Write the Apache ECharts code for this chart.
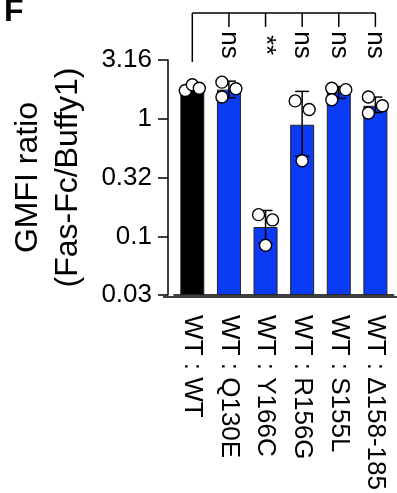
<!DOCTYPE html>
<html><head><meta charset="utf-8">
<script src="https://cdn.jsdelivr.net/npm/echarts@6/dist/echarts.min.js"></script>
<style>html,body{margin:0;padding:0;background:#fff}#c{width:397px;height:493px}</style>
</head><body><div id="c"></div>
<script>
const categories = ['WT : WT','WT : Q130E','WT : Y166C','WT : R156G','WT : S155L','WT : Δ158-185'];
const means = [1.77, 1.77, 0.12, 0.89, 1.69, 1.29];
const errHigh = [null, 2.09, 0.166, 1.71, 1.88, 1.53];
const errLow = [null, 1.51, 0.087, 0.48, 1.49, 1.13];
const replicates = [[1.74,1.95,1.82],[2.05,1.80,1.53],[0.153,0.138,0.084],[1.42,1.20,0.44],[1.82,1.77,1.45],[1.53,1.29,1.12]];
const jitterSide = [[-1,0,1],[-1,1,-1],[-1,1,0],[-1,1,0],[-1,1,-1],[-1,1,-1]];
const significance = ['', 'ns', '**', 'ns', 'ns', 'ns'];
const tickExponents = [-1.5, -1, -0.5, 0, 0.5];
const tickLabels = ['0.03', '0.1', '0.32', '1', '3.16'];
const barColors = ['#000000', '#0b3bf5', '#0b3bf5', '#0b3bf5', '#0b3bf5', '#0b3bf5'];

const FONT = '"Liberation Sans", Arial, Helvetica, sans-serif';
const yMin = Math.pow(10, tickExponents[0]);
const yMax = Math.pow(10, tickExponents[tickExponents.length - 1]);

function labelFor(v) {
  const e = Math.log10(v);
  let best = 0;
  tickExponents.forEach((t, i) => { if (Math.abs(t - e) < Math.abs(tickExponents[best] - e)) best = i; });
  return Math.abs(tickExponents[best] - e) < 0.01 ? tickLabels[best] : '';
}

const chart = echarts.init(document.getElementById('c'), null, {renderer: 'canvas'});

const errData = [];
means.forEach((m, i) => { if (errHigh[i] != null) errData.push([i, errLow[i], errHigh[i]]); });
const ptData = [];
replicates.forEach((arr, i) => arr.forEach((v, j) => ptData.push([i, v, jitterSide[i][j]])));
const sigData = significance.map((s, i) => [i, yMax]);

chart.setOption({
  animation: false,
  backgroundColor: '#fff',
  grid: {left: 169, right: 3.3, top: 60, bottom: 196, containLabel: false},
  xAxis: {
    type: 'category', data: categories,
    axisLine: {lineStyle: {color: '#000', width: 1.5}},
    axisTick: {alignWithLabel: true, length: 9, lineStyle: {color: '#000', width: 1.5}},
    axisLabel: {rotate: -90, margin: 20, color: '#000', fontSize: 26, fontFamily: FONT, interval: 0}
  },
  yAxis: {
    type: 'log', logBase: 10, min: yMin, max: yMax, interval: 0.5, startValue: yMin,
    offset: 6,
    splitLine: {show: false},
    axisLine: {show: true, lineStyle: {color: '#000', width: 1.5}},
    axisTick: {show: true, length: 10, lineStyle: {color: '#000', width: 1.5}},
    axisLabel: {margin: 16, color: '#000', fontSize: 26, fontFamily: FONT, formatter: labelFor},
    name: 'GMFI ratio\n(Fas-Fc/Buffy1)', nameLocation: 'middle', nameRotate: 90, nameGap: 80,
    nameTextStyle: {color: '#000', fontSize: 32, fontFamily: FONT, lineHeight: 40}
  },
  graphic: [
    {type: 'text', left: 4, top: -4, style: {text: 'F', font: 'bold 32px ' + FONT, fill: '#000'}},
    {type: 'line', shape: {x1: 163, y1: 297, x2: 397, y2: 297}, style: {stroke: '#000', lineWidth: 1.5}}
  ],
  series: [
    {
      type: 'bar', data: means.map((v, i) => ({value: v, itemStyle: {color: barColors[i]}})),
      barWidth: 24, itemStyle: {borderColor: '#222', borderWidth: 1}
    },
    {
      type: 'custom', data: errData, z: 3,
      renderItem: (params, api) => {
        const lo = api.coord([api.value(0), api.value(1)]);
        const hi = api.coord([api.value(0), api.value(2)]);
        const w = 7;
        const st = {stroke: '#000', lineWidth: 1.5};
        return {type: 'group', children: [
          {type: 'line', shape: {x1: lo[0], y1: lo[1], x2: hi[0], y2: hi[1]}, style: st},
          {type: 'line', shape: {x1: hi[0] - w, y1: hi[1], x2: hi[0] + w, y2: hi[1]}, style: st},
          {type: 'line', shape: {x1: lo[0] - w, y1: lo[1], x2: lo[0] + w, y2: lo[1]}, style: st}
        ]};
      }
    },
    {
      type: 'custom', data: ptData, z: 4,
      renderItem: (params, api) => {
        const p = api.coord([api.value(0), api.value(1)]);
        return {type: 'circle', shape: {cx: p[0] + api.value(2) * 7, cy: p[1], r: 6},
          style: {fill: '#fff', stroke: '#000', lineWidth: 1.4}};
      }
    },
    {
      type: 'custom', data: sigData, clip: false, z: 5,
      renderItem: (params, api) => {
        const i = api.value(0);
        const p = api.coord([i, yMax]);
        const top = p[1];
        const st = {stroke: '#000', lineWidth: 1.5};
        const children = [];
        if (i === 0) {
          const last = api.coord([significance.length - 1, yMax]);
          children.push({type: 'line', shape: {x1: p[0], y1: top - 47, x2: last[0], y2: top - 47}, style: st});
          children.push({type: 'line', shape: {x1: p[0], y1: top - 47, x2: p[0], y2: top + 2}, style: st});
        } else {
          children.push({type: 'line', shape: {x1: p[0], y1: top - 47, x2: p[0], y2: top - 33}, style: st});
          children.push({type: 'text', x: p[0], y: top - 15, rotation: -Math.PI / 2,
            style: {text: significance[i], fill: '#000', font: '26px ' + FONT, align: 'center', verticalAlign: 'middle'}});
        }
        return {type: 'group', children};
      }
    }
  ]
});
</script></body></html>
